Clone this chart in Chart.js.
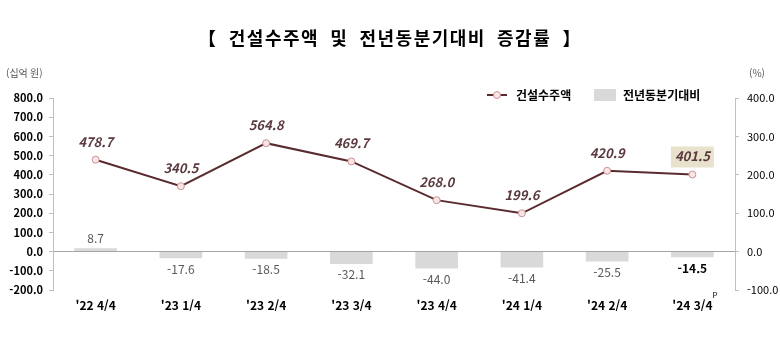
<!DOCTYPE html>
<html lang="ko">
<head>
<meta charset="utf-8">
<script src="https://cdn.jsdelivr.net/npm/chart.js@4/dist/chart.umd.min.js"></script>
<style>
    html, body { margin: 0; padding: 0; background: #fff; }
    #wrap { position: relative; width: 780px; height: 342px; }
</style>
</head>
<body>
<div id="wrap"><canvas id="orderChart" width="780" height="342"></canvas></div>
<script>
// ------------------- Data -------------------
const quarters = ["'22 4/4", "'23 1/4", "'23 2/4", "'23 3/4", "'23 4/4", "'24 1/4", "'24 2/4", "'24 3/4"];
const orderAmount = [478.7, 340.5, 564.8, 469.7, 268.0, 199.6, 420.9, 401.5];   // 십억 원
const yoyChange = [8.7, -17.6, -18.5, -32.1, -44.0, -41.4, -25.5, -14.5];        // %
const leftTicks = [-200, -100, 0, 100, 200, 300, 400, 500, 600, 700, 800];
const rightTicks = [-100, 0, 100, 200, 300, 400];

const FONT = "'Noto Sans CJK KR', 'Noto Sans', sans-serif";
const LINE_COLOR = '#5a2b2e';
const BAR_COLOR = '#d9d9d9';

// ------------------- Labels / decorations -------------------
const decorPlugin = {
    id: 'decor',
    afterDraw(chart) {
        const ctx = chart.ctx;
        ctx.save();

        // title
        ctx.fillStyle = '#000';
        ctx.font = `bold 18px ${FONT}`;
        ctx.textAlign = 'center';
        ctx.textBaseline = 'middle';
        ctx.letterSpacing = '1.5px';
        ctx.fillText('【  건설수주액  및  전년동분기대비  증감률  】', 390, 38);
        ctx.letterSpacing = '0px';

        // units
        ctx.font = `10px ${FONT}`;
        ctx.fillStyle = '#595959';
        ctx.textAlign = 'left';
        ctx.fillText('(십억 원)', 6, 73);
        ctx.fillText('(%)', 749, 73);

        // legend
        const ly = 95;
        ctx.strokeStyle = LINE_COLOR;
        ctx.lineWidth = 2;
        ctx.beginPath();
        ctx.moveTo(487, ly);
        ctx.lineTo(507, ly);
        ctx.stroke();
        ctx.beginPath();
        ctx.arc(497, ly, 3.5, 0, Math.PI * 2);
        ctx.fillStyle = '#fbe4e4';
        ctx.fill();
        ctx.strokeStyle = '#c99396';
        ctx.lineWidth = 1;
        ctx.stroke();
        ctx.fillStyle = '#000';
        ctx.font = `bold 12px ${FONT}`;
        ctx.fillText('건설수주액', 516, ly);
        ctx.fillStyle = BAR_COLOR;
        ctx.fillRect(594, ly - 6, 22, 12);
        ctx.fillStyle = '#000';
        ctx.fillText('전년동분기대비', 623, ly);

        // superscript P on last category
        const xScale = chart.scales.x;
        const lastX = xScale.getPixelForValue(quarters.length - 1);
        ctx.font = `bold 12px ${FONT}`;
        const w = ctx.measureText(quarters[quarters.length - 1]).width;
        ctx.font = `8px ${FONT}`;
        ctx.fillText('P', lastX + w / 2, 295);

        // bar labels
        const barMeta = chart.getDatasetMeta(0);
        ctx.textAlign = 'center';
        barMeta.data.forEach((bar, i) => {
            const v = yoyChange[i];
            const last = i === yoyChange.length - 1;
            ctx.font = last ? `bold 12px ${FONT}` : `12px ${FONT}`;
            ctx.fillStyle = last ? '#000' : '#595959';
            const y = v >= 0 ? bar.y - 10 : bar.y + 11;
            ctx.fillText(v.toFixed(1), bar.x, y);
        });

        // line labels
        const lineMeta = chart.getDatasetMeta(1);
        lineMeta.data.forEach((pt, i) => {
            const txt = orderAmount[i].toFixed(1);
            const y = pt.y - 18;
            ctx.font = `italic bold 13px ${FONT}`;
            if (i === orderAmount.length - 1) {
                const tw = ctx.measureText(txt).width;
                ctx.fillStyle = '#e8e2cc';
                ctx.fillRect(pt.x - tw / 2 - 4, y - 10, tw + 8, 21);
            }
            ctx.fillStyle = '#5a3a3e';
            ctx.fillText(txt, pt.x, y);
        });

        ctx.restore();
    }
};

// ------------------- Chart -------------------
function initOrderChart() {
    const ctx = document.getElementById('orderChart');
    new Chart(ctx.getContext('2d'), {
        data: {
            labels: quarters,
            datasets: [
                {
                    type: 'bar',
                    label: '전년동분기대비',
                    data: yoyChange,
                    yAxisID: 'y1',
                    backgroundColor: BAR_COLOR,
                    barPercentage: 0.5,
                    categoryPercentage: 1,
                    order: 2
                },
                {
                    type: 'line',
                    label: '건설수주액',
                    data: orderAmount,
                    yAxisID: 'y',
                    borderColor: LINE_COLOR,
                    borderWidth: 2,
                    pointRadius: 3.5,
                    pointBackgroundColor: '#fbe4e4',
                    pointBorderColor: '#c99396',
                    pointBorderWidth: 1,
                    tension: 0,
                    order: 1
                }
            ]
        },
        options: {
            responsive: false,
            animation: false,
            layout: { padding: { left: 8, right: 0, top: 98, bottom: 22 } },
            plugins: {
                legend: { display: false },
                tooltip: { enabled: false }
            },
            scales: {
                x: {
                    grid: { display: false },
                    border: { display: false },
                    ticks: {
                        color: '#000',
                        font: { family: FONT, size: 12, weight: 'bold' },
                        padding: 0
                    },
                    afterFit: axis => { axis.height = 30; }
                },
                y: {
                    position: 'left',
                    min: -200,
                    max: 800,
                    afterBuildTicks: axis => { axis.ticks = leftTicks.map(v => ({ value: v })); },
                    ticks: {
                        color: '#000',
                        font: { family: FONT, size: 11, weight: 'bold' },
                        padding: 6,
                        callback: v => v.toFixed(1)
                    },
                    grid: {
                        drawOnChartArea: true,
                        tickLength: 4,
                        tickColor: '#bfbfbf',
                        color: c => c.tick && c.tick.value === 0 ? '#a6a6a6' : 'rgba(0,0,0,0)'
                    },
                    border: { display: true, color: '#bfbfbf' },
                    afterFit: axis => { axis.width = 45; }
                },
                y1: {
                    position: 'right',
                    min: -100,
                    max: 400,
                    afterBuildTicks: axis => { axis.ticks = rightTicks.map(v => ({ value: v })); },
                    ticks: {
                        color: '#000',
                        font: { family: FONT, size: 11 },
                        padding: 8,
                        callback: v => v.toFixed(1)
                    },
                    grid: { drawOnChartArea: false, tickLength: 4, tickColor: '#bfbfbf' },
                    border: { display: true, color: '#bfbfbf' },
                    afterFit: axis => { axis.width = 45; }
                }
            }
        },
        plugins: [decorPlugin]
    });
}

document.addEventListener('DOMContentLoaded', initOrderChart);
</script>
</body>
</html>
